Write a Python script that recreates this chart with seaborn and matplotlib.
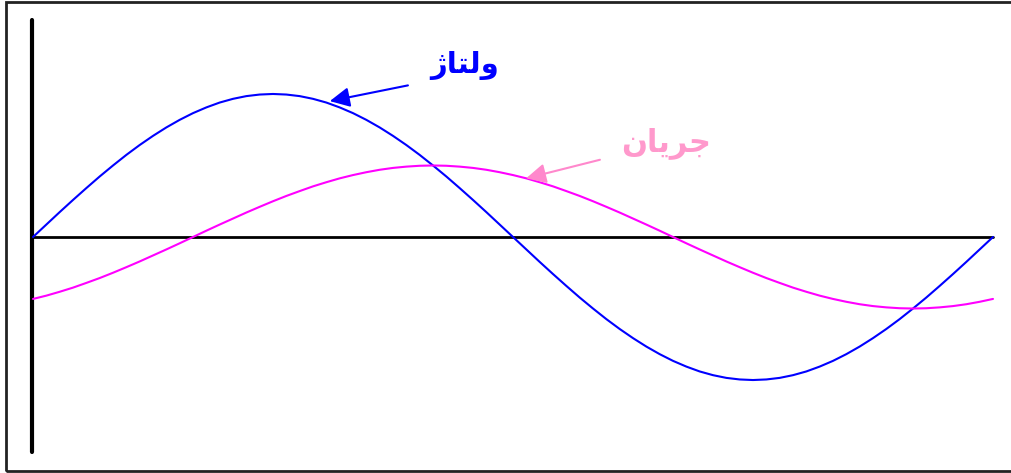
import numpy as np
import pandas as pd
import matplotlib
matplotlib.use('Agg')
import matplotlib.pyplot as plt
from matplotlib.patches import Rectangle
import seaborn as sns

# angle in degrees over one period, every 5 degrees
angle = list(range(0, 365, 5))
# voltage (blue), peak = 1
voltage = [0.0, 0.087, 0.174, 0.259, 0.342, 0.423, 0.5, 0.574, 0.643, 0.707, 0.766, 0.819,
           0.866, 0.906, 0.94, 0.966, 0.985, 0.996, 1.0, 0.996, 0.985, 0.966, 0.94, 0.906,
           0.866, 0.819, 0.766, 0.707, 0.643, 0.574, 0.5, 0.423, 0.342, 0.259, 0.174, 0.087,
           0.0, -0.087, -0.174, -0.259, -0.342, -0.423, -0.5, -0.574, -0.643, -0.707, -0.766, -0.819,
           -0.866, -0.906, -0.94, -0.966, -0.985, -0.996, -1.0, -0.996, -0.985, -0.966, -0.94, -0.906,
           -0.866, -0.819, -0.766, -0.707, -0.643, -0.574, -0.5, -0.423, -0.342, -0.259, -0.174, -0.087,
           0.0]
# current (magenta), lagging the voltage
current = [-0.433, -0.41, -0.383, -0.354, -0.321, -0.287, -0.25, -0.211, -0.171, -0.129, -0.087, -0.044,
           0.0, 0.044, 0.087, 0.129, 0.171, 0.211, 0.25, 0.287, 0.321, 0.354, 0.383, 0.41,
           0.433, 0.453, 0.47, 0.483, 0.492, 0.498, 0.5, 0.498, 0.492, 0.483, 0.47, 0.453,
           0.433, 0.41, 0.383, 0.354, 0.321, 0.287, 0.25, 0.211, 0.171, 0.129, 0.087, 0.044,
           0.0, -0.044, -0.087, -0.129, -0.171, -0.211, -0.25, -0.287, -0.321, -0.354, -0.383, -0.41,
           -0.433, -0.453, -0.47, -0.483, -0.492, -0.498, -0.5, -0.498, -0.492, -0.483, -0.47, -0.453,
           -0.433]

# labels (presentation forms, visual order since matplotlib does no shaping)
label_v = '\uFB8A\uFE8E\uFE98\uFEDF\uFEED'   # ولتاژ
label_i = '\uFEE5\uFE8E\uFBFE\uFEAE\uFE9F'   # جریان

df = pd.DataFrame({'angle': angle, 'voltage': voltage, 'current': current})

sns.set_style('white')
plt.rcParams['font.family'] = ['DejaVu Sans']

fig = plt.figure(figsize=(10.11, 4.73), dpi=100)
ax = fig.add_axes([0, 0, 1, 1])

sns.lineplot(data=df, x='angle', y='voltage', color='#0000ff', lw=1.5, ax=ax)
sns.lineplot(data=df, x='angle', y='current', color='#ff00ff', lw=1.5, ax=ax)

# axes lines
ax.plot([0, 360], [0, 0], color='black', lw=2, zorder=1)
ax.plot([-0.4, -0.4], [-1.503, 1.517], color='black', lw=3, zorder=1)

# pixel mapping: x = 33 + deg*960/360, y = 237 - v*143
ax.set_xlim(-12.375, 366.75)
ax.set_ylim(-1.650, 1.657)
ax.axis('off')

# outer frame (right edge runs off the picture)
fig.patches.append(Rectangle((6 / 1011, 2.5 / 473), 1015 / 1011, 468.5 / 473,
                             transform=fig.transFigure, fill=False,
                             edgecolor='#222222', lw=2))

ax.annotate('', xy=(111.3, 0.95), xytext=(140.6, 1.06),
            arrowprops=dict(arrowstyle='-|>,head_length=0.6,head_width=0.3', color='#0000ff', lw=1.5,
                            mutation_scale=20, shrinkA=0, shrinkB=0))
ax.text(162, 1.2, label_v, color='#0000ff', fontsize=21, fontweight='bold',
        ha='center', va='center')

ax.annotate('', xy=(184.9, 0.41), xytext=(212.6, 0.54),
            arrowprops=dict(arrowstyle='-|>,head_length=0.6,head_width=0.3', color='#ff88cc', lw=1.5,
                            mutation_scale=20, shrinkA=0, shrinkB=0))
ax.text(237.4, 0.66, label_i, color='#ff99cc', fontsize=22, fontweight='bold',
        ha='center', va='center')

fig.savefig('out.png', dpi=100)
